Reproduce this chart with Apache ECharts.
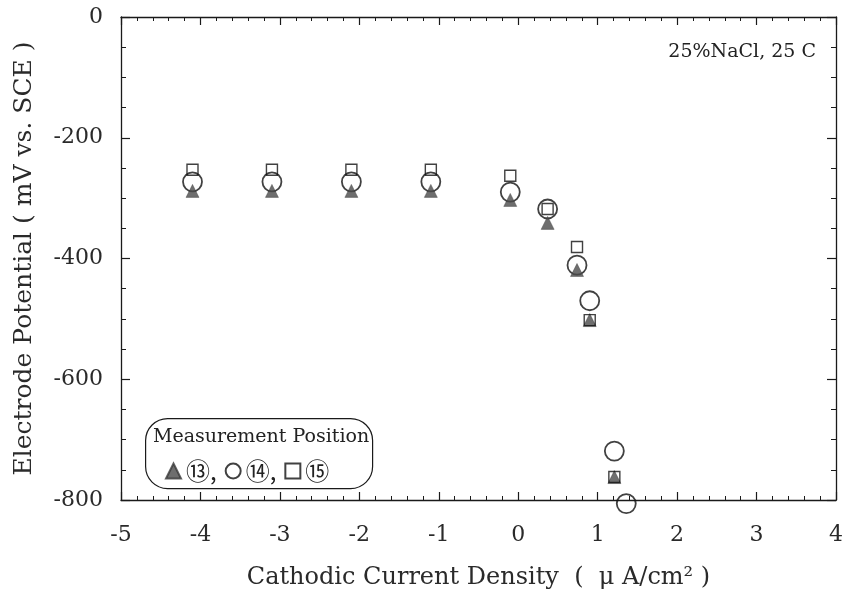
<!DOCTYPE html>
<html>
<head>
<meta charset="utf-8">
<script src="https://cdn.jsdelivr.net/npm/echarts@6/dist/echarts.min.js"></script>
<style>
  html, body { margin: 0; padding: 0; background: #fff; }
  #chart { width: 854px; height: 602px; }
</style>
</head>
<body>
<div id="chart"></div>
<script>
// current density (uA/cm2) and potential (mV vs SCE)
const xTri = [-4.1, -3.1, -2.1, -1.1, -0.1, 0.37, 0.74, 0.9, 1.21];
const yTri = [-288, -288, -288, -288, -303, -341, -419, -502, -762];
const xCir = [-4.1, -3.1, -2.1, -1.1, -0.1, 0.37, 0.74, 0.9, 1.21, 1.36];
const yCir = [-273, -273, -273, -273, -290, -318, -411, -470, -719, -806];
const xSq = [-4.1, -3.1, -2.1, -1.1, -0.1, 0.37, 0.74, 0.9, 1.21];
const ySq = [-253, -253, -253, -253, -263, -318, -381, -502, -762];

const seriesNames = ['⑬,', '⑭,', '⑮'];

function pairs(xs, ys) {
  return xs.map((x, i) => [x, ys[i]]);
}

const serif = '"DejaVu Serif", "Liberation Serif", serif';
const ink = '#1a1a1a';
const txt = '#2a2a2a';

const chart = echarts.init(document.getElementById('chart'));

const tickStyle = { color: ink, width: 1.2 };

function frameAxis(extra) {
  return Object.assign({
    type: 'value',
    axisLine: { onZero: false, lineStyle: { color: ink, width: 1.3 } },
    axisLabel: { show: false },
    splitLine: { show: false }
  }, extra);
}

const option = {
  backgroundColor: '#fff',
  animation: false,
  grid: { left: 121, right: 18, top: 17, bottom: 102, outerBoundsMode: 'none' },
  xAxis: [
    frameAxis({
      min: -5, max: 4, interval: 1, position: 'bottom',
      name: 'Cathodic Current Density  (  μ A/cm² )',
      nameLocation: 'middle', nameGap: 66,
      nameTextStyle: { fontFamily: serif, fontSize: 24, color: txt },
      axisTick: { inside: true, length: 8, lineStyle: tickStyle },
      minorTick: { show: true, splitNumber: 5, length: 4, lineStyle: { color: ink } },
      axisLabel: { show: true, fontFamily: serif, fontSize: 22, color: txt, margin: 24 }
    }),
    frameAxis({
      min: -5, max: 4, interval: 1, position: 'top',
      axisTick: { inside: true, length: 8, lineStyle: tickStyle },
      minorTick: { show: true, splitNumber: 5, length: 4, lineStyle: { color: ink } }
    })
  ],
  yAxis: [
    frameAxis({
      min: -800, max: 0, interval: 200, position: 'left',
      name: 'Electrode Potential ( mV vs. SCE )',
      nameLocation: 'middle', nameGap: 84,
      nameTextStyle: { fontFamily: serif, fontSize: 25, color: txt },
      axisTick: { inside: true, length: 9, lineStyle: tickStyle },
      minorTick: { show: true, splitNumber: 4, length: 5, lineStyle: { color: ink } },
      axisLabel: { show: true, fontFamily: serif, fontSize: 22, color: txt, margin: 18 }
    }),
    frameAxis({
      min: -800, max: 0, interval: 200, position: 'right',
      axisTick: { inside: true, length: 9, lineStyle: tickStyle },
      minorTick: { show: true, splitNumber: 4, length: 5, lineStyle: { color: ink } }
    })
  ],
  legend: {
    left: 160, top: 454,
    itemGap: 8, itemWidth: 15, itemHeight: 15,
    textStyle: { fontFamily: '"Noto Sans CJK JP", "DejaVu Serif", serif', fontSize: 24, color: '#222' },
    data: [
      { name: seriesNames[0], icon: 'triangle' },
      { name: seriesNames[1], icon: 'circle' },
      { name: seriesNames[2], icon: 'rect' }
    ]
  },
  graphic: [
    {
      type: 'rect', left: 145, top: 418,
      shape: { width: 227, height: 70, r: 22 },
      style: { fill: 'rgba(255,255,255,0)', stroke: ink, lineWidth: 1.2 }
    },
    {
      type: 'text', left: 153, top: 428,
      style: { text: 'Measurement Position', font: '19px ' + serif, fill: '#222' }
    },
    {
      type: 'text', right: 38, top: 43,
      style: { text: '25%NaCl, 25 C', font: '19px ' + serif, fill: '#222' }
    }
  ],
  series: [
    {
      name: seriesNames[0], type: 'scatter', clip: false, z: 3,
      symbol: 'triangle', symbolSize: 13,
      itemStyle: { color: '#4a4a4a', borderColor: '#3a3a3a', borderWidth: 0.5 },
      data: pairs(xTri, yTri)
    },
    {
      name: seriesNames[1], type: 'scatter', clip: false, z: 2,
      symbol: 'circle', symbolSize: 19,
      itemStyle: { color: 'rgba(255,255,255,0)', borderColor: '#111', borderWidth: 1.8 },
      data: pairs(xCir, yCir)
    },
    {
      name: seriesNames[2], type: 'scatter', clip: false, z: 4,
      symbol: 'rect', symbolSize: 11,
      itemStyle: { color: 'rgba(255,255,255,0)', borderColor: '#111', borderWidth: 1.4 },
      data: pairs(xSq, ySq)
    }
  ]
};

chart.setOption(option);
</script>
</body>
</html>
